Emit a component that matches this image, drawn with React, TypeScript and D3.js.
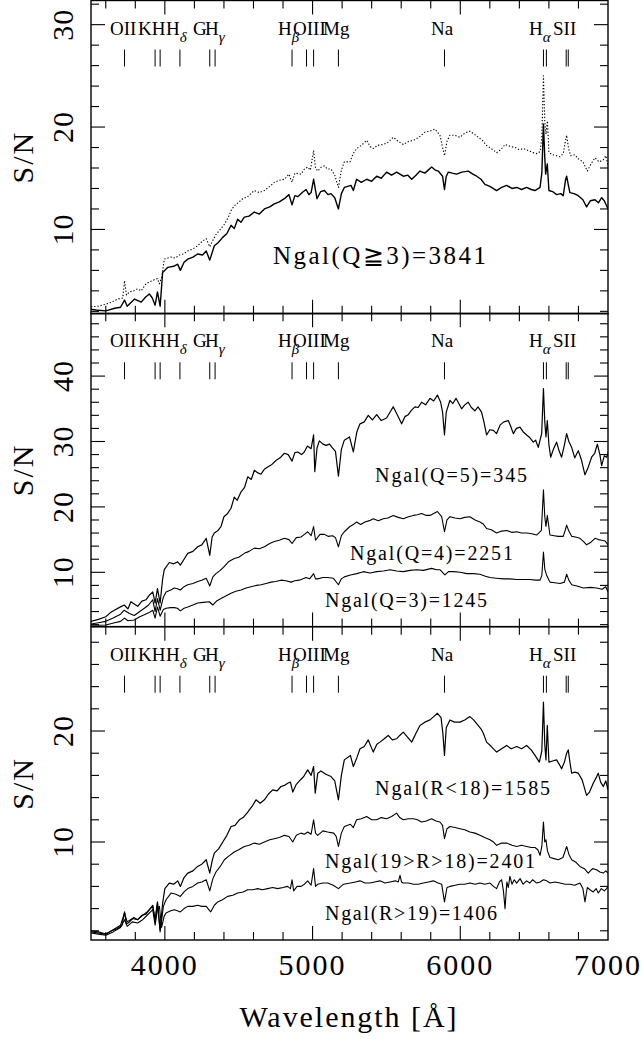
import * as d3 from "d3";

const W = 642;
const H = 1039;
const X0 = 91;
const X1 = 608;
const PANEL_TOPS = [0.5, 313.3, 626.7];
const PANEL_H = 313.3;
const FONT = '"Liberation Serif"';

type Pt = [number, number];

// panel 1: all galaxies Q>=3 (solid) and the dotted upper spectrum
const allQ3: Pt[] = [[3500,2.2],[3550,2.1],[3600,2.05],[3660,2.3],[3700,2.4],[3727,3.1],[3745,2.5],[3795,3.2],[3840,2.9],[3870,3.4],[3895,3.7],[3915,3.3],[3934,2.6],[3950,3.9],[3968,2.5],[3985,5.8],[4020,6.3],[4060,6.4],[4087,6.6],[4105,6.0],[4130,6.8],[4155,7.1],[4190,7.3],[4222,7.6],[4255,7.5],[4280,7.9],[4304,7.0],[4335,8.4],[4360,8.7],[4390,9.2],[4420,9.6],[4448,10.4],[4470,10.1],[4493,11.0],[4515,10.7],[4538,11.2],[4570,11.3],[4606,11.7],[4640,11.5],[4674,12.0],[4710,12.2],[4741,12.5],[4775,12.7],[4809,13.0],[4840,13.4],[4861,12.4],[4880,13.3],[4900,13.2],[4930,13.6],[4956,13.9],[4975,13.4],[4990,13.6],[5007,14.9],[5030,13.0],[5055,13.7],[5080,13.8],[5105,13.4],[5125,13.5],[5150,13.1],[5175,12.0],[5195,13.5],[5215,14.1],[5260,14.3],[5276,13.8],[5298,14.9],[5330,14.6],[5366,14.9],[5400,14.7],[5434,15.2],[5465,15.0],[5501,15.6],[5535,15.3],[5569,15.6],[5614,15.2],[5645,15.3],[5671,14.9],[5700,15.3],[5727,15.7],[5760,15.5],[5806,16.1],[5830,15.8],[5851,15.7],[5880,15.2],[5893,13.9],[5905,15.2],[5919,15.6],[5945,15.5],[5975,15.4],[6010,15.6],[6054,15.7],[6085,15.4],[6111,15.2],[6140,14.9],[6167,14.4],[6200,14.2],[6246,13.8],[6280,14.1],[6314,14.3],[6350,14.0],[6382,14.1],[6415,13.9],[6449,14.1],[6480,13.9],[6506,13.8],[6540,14.1],[6552,15.5],[6563,20.3],[6572,17.0],[6578,15.4],[6589,16.4],[6600,13.8],[6625,13.7],[6652,13.4],[6680,13.5],[6697,13.3],[6712,14.8],[6720,15.2],[6732,14.3],[6742,13.6],[6770,13.5],[6799,13.3],[6830,12.9],[6855,12.2],[6880,12.8],[6912,12.9],[6935,12.6],[6957,13.1],[6975,12.8],[7000,12.0]];
const allQ3Dotted: Pt[] = [[3500,2.45],[3550,2.5],[3600,2.7],[3640,2.9],[3680,3.2],[3715,3.3],[3727,5.0],[3740,3.6],[3760,3.9],[3790,4.0],[3815,4.2],[3840,4.0],[3872,4.7],[3900,4.9],[3930,5.1],[3950,5.2],[3963,4.7],[3980,5.4],[3996,7.1],[4042,7.3],[4070,7.2],[4098,7.5],[4125,7.6],[4155,7.9],[4190,8.1],[4222,8.4],[4250,8.8],[4280,9.1],[4304,8.3],[4320,8.8],[4346,9.5],[4375,10.0],[4403,10.5],[4430,11.2],[4450,11.9],[4470,12.3],[4495,12.6],[4527,13.0],[4560,13.2],[4606,13.8],[4640,13.6],[4674,13.8],[4710,14.2],[4741,14.6],[4775,14.8],[4809,14.9],[4840,15.4],[4861,14.6],[4880,15.5],[4922,15.4],[4945,15.9],[4967,16.1],[4985,15.8],[5007,17.7],[5020,16.0],[5035,15.7],[5060,16.1],[5080,16.2],[5100,15.9],[5125,15.9],[5150,15.3],[5175,14.1],[5195,15.8],[5215,16.6],[5253,16.6],[5275,17.4],[5298,17.9],[5330,18.2],[5366,18.7],[5390,18.1],[5411,17.9],[5440,18.2],[5479,18.3],[5510,18.5],[5546,19.0],[5580,18.6],[5614,18.3],[5650,18.6],[5682,18.7],[5720,19.0],[5761,19.5],[5795,19.6],[5829,19.8],[5862,19.2],[5893,17.2],[5910,18.6],[5930,19.2],[5960,19.2],[5998,19.0],[6030,19.4],[6065,19.6],[6095,19.3],[6122,19.0],[6150,18.7],[6178,18.2],[6210,17.9],[6246,17.5],[6275,17.8],[6303,18.3],[6340,18.1],[6371,18.0],[6400,17.8],[6427,17.9],[6460,17.7],[6494,17.5],[6520,17.4],[6540,17.6],[6552,19.0],[6563,25.0],[6572,20.5],[6580,19.3],[6590,20.6],[6600,17.5],[6625,17.3],[6652,17.2],[6675,17.1],[6697,17.4],[6710,18.5],[6720,19.2],[6732,18.0],[6747,17.2],[6775,17.3],[6799,16.9],[6830,16.6],[6860,15.7],[6885,16.4],[6912,17.0],[6940,16.6],[6968,16.8],[6985,17.2],[7000,16.3]];

// panel 2: by quality flag
const q5: Pt[] = [[3500,2.5],[3550,2.8],[3600,3.2],[3630,3.8],[3658,4.2],[3690,4.6],[3725,5.0],[3750,4.4],[3770,5.5],[3790,5.2],[3816,4.8],[3845,5.6],[3872,5.8],[3895,6.5],[3918,7.0],[3934,5.3],[3950,7.5],[3968,5.3],[3985,9.0],[3996,10.4],[4030,11.5],[4060,11.3],[4087,11.6],[4105,11.1],[4130,12.0],[4155,12.9],[4190,13.2],[4222,13.9],[4250,14.2],[4280,15.2],[4304,12.6],[4320,15.4],[4335,16.0],[4360,16.4],[4380,17.0],[4400,18.5],[4425,19.0],[4448,19.8],[4470,21.5],[4490,21.0],[4516,22.3],[4540,23.0],[4561,24.6],[4585,24.2],[4606,25.6],[4630,25.2],[4651,25.0],[4675,25.8],[4696,26.1],[4725,26.5],[4752,27.1],[4780,27.5],[4809,28.2],[4835,28.0],[4861,27.0],[4880,28.3],[4900,28.4],[4925,28.0],[4944,28.4],[4965,29.3],[4990,28.9],[5007,31.0],[5015,25.4],[5030,29.0],[5046,30.1],[5070,29.6],[5091,29.4],[5115,29.6],[5136,29.0],[5155,28.5],[5175,24.7],[5195,28.8],[5215,30.2],[5250,30.7],[5276,28.4],[5300,31.5],[5321,32.7],[5350,33.0],[5377,34.0],[5405,33.3],[5434,34.1],[5465,33.2],[5501,33.6],[5525,34.5],[5546,35.3],[5575,34.0],[5603,32.7],[5625,33.8],[5648,34.1],[5670,34.8],[5693,35.3],[5715,35.2],[5738,36.0],[5765,35.6],[5795,36.6],[5820,36.2],[5845,37.1],[5867,36.0],[5880,34.5],[5893,31.0],[5905,34.5],[5930,36.3],[5950,35.8],[5971,36.6],[5990,35.8],[6009,35.0],[6030,35.6],[6054,36.0],[6075,35.2],[6099,34.7],[6120,35.3],[6144,34.5],[6160,33.0],[6178,31.0],[6200,31.8],[6224,31.7],[6245,31.2],[6269,32.5],[6295,33.0],[6325,33.2],[6340,32.4],[6359,31.2],[6380,32.0],[6404,32.2],[6425,31.5],[6449,31.0],[6470,30.6],[6494,29.9],[6510,30.2],[6528,29.1],[6551,31.2],[6563,38.1],[6572,33.0],[6580,30.7],[6589,33.2],[6600,29.5],[6612,27.6],[6630,28.8],[6652,29.9],[6670,28.5],[6686,27.6],[6705,29.5],[6720,31.2],[6735,30.0],[6754,29.1],[6775,27.5],[6799,28.6],[6820,27.2],[6844,24.9],[6865,26.0],[6889,27.6],[6910,28.2],[6928,29.6],[6945,28.0],[6957,26.3],[6975,27.8],[6991,27.6],[7000,28.3]];
const q4: Pt[] = [[3500,2.1],[3550,2.3],[3600,2.5],[3650,3.0],[3700,3.6],[3725,4.2],[3760,3.7],[3793,3.4],[3830,4.0],[3861,4.5],[3890,5.0],[3918,5.8],[3934,4.0],[3950,6.0],[3968,4.2],[3990,6.2],[4008,7.0],[4040,7.3],[4064,7.6],[4085,7.5],[4105,7.3],[4130,7.8],[4155,8.1],[4190,8.3],[4222,8.6],[4250,8.8],[4280,9.1],[4304,7.9],[4325,9.3],[4346,9.8],[4375,10.3],[4403,10.9],[4430,11.6],[4470,12.1],[4500,12.3],[4538,12.9],[4570,13.2],[4606,13.7],[4640,13.6],[4674,13.9],[4710,14.4],[4741,14.7],[4775,14.9],[4809,15.2],[4840,15.0],[4861,14.4],[4890,15.3],[4922,15.4],[4945,15.8],[4967,16.2],[4990,15.6],[5007,17.0],[5020,14.9],[5050,15.8],[5080,15.8],[5105,15.5],[5136,15.6],[5155,15.3],[5175,13.9],[5195,15.6],[5215,16.2],[5253,17.0],[5275,17.3],[5298,17.7],[5325,17.3],[5355,17.7],[5385,17.9],[5411,18.2],[5445,17.9],[5479,18.2],[5510,18.3],[5546,18.7],[5580,18.4],[5614,18.2],[5650,18.5],[5682,18.7],[5710,18.8],[5738,19.0],[5770,18.7],[5795,18.7],[5820,19.0],[5845,19.3],[5874,18.5],[5893,16.2],[5910,18.0],[5930,18.5],[5965,18.3],[5998,18.2],[6030,18.4],[6065,18.5],[6100,18.0],[6133,17.7],[6155,17.4],[6178,16.7],[6210,16.5],[6246,16.0],[6280,16.3],[6314,16.4],[6350,16.1],[6382,16.2],[6415,16.0],[6449,16.0],[6485,15.9],[6517,15.7],[6549,16.4],[6563,22.6],[6572,18.5],[6580,17.0],[6589,18.7],[6607,15.7],[6635,15.6],[6664,15.5],[6697,15.5],[6710,16.4],[6720,17.2],[6735,16.3],[6754,15.5],[6780,15.4],[6810,15.2],[6835,14.7],[6855,14.2],[6885,14.6],[6912,15.2],[6935,15.0],[6957,14.9],[6980,14.8],[7000,14.2]];
const q3: Pt[] = [[3500,1.95],[3550,1.9],[3600,1.95],[3660,2.3],[3700,2.5],[3727,3.0],[3750,2.6],[3793,2.7],[3830,3.2],[3861,3.5],[3890,3.8],[3918,4.2],[3934,3.0],[3950,4.7],[3968,3.3],[3990,4.3],[4008,4.5],[4040,4.6],[4064,4.6],[4085,4.5],[4105,4.1],[4130,4.5],[4155,4.7],[4190,5.0],[4222,5.3],[4260,5.4],[4301,5.5],[4324,5.0],[4350,5.6],[4380,6.0],[4415,6.4],[4448,6.8],[4480,7.1],[4516,7.3],[4550,7.6],[4583,7.8],[4620,8.0],[4651,8.1],[4685,8.3],[4719,8.5],[4750,8.6],[4786,8.8],[4820,8.7],[4854,8.5],[4880,8.7],[4910,8.8],[4935,9.0],[4956,9.2],[4980,9.0],[5007,9.8],[5020,9.0],[5035,9.0],[5070,9.2],[5102,9.2],[5140,9.1],[5175,8.1],[5195,9.0],[5215,9.3],[5256,9.6],[5300,9.8],[5343,10.1],[5390,9.9],[5434,10.1],[5480,10.2],[5524,10.4],[5570,10.2],[5614,10.1],[5660,10.3],[5704,10.4],[5750,10.3],[5806,10.6],[5840,10.4],[5862,10.4],[5896,9.6],[5920,10.1],[5953,10.1],[6000,10.0],[6043,9.8],[6090,9.8],[6133,9.7],[6170,9.4],[6201,9.2],[6245,9.1],[6291,9.0],[6335,9.0],[6382,8.9],[6430,8.9],[6472,8.9],[6510,8.8],[6540,8.8],[6552,9.5],[6563,13.1],[6572,10.5],[6584,9.6],[6607,8.5],[6640,8.4],[6675,8.3],[6705,8.5],[6720,9.7],[6735,8.8],[6754,8.1],[6790,7.9],[6833,7.6],[6880,7.7],[6923,7.6],[6960,7.4],[6985,7.8],[7000,7.0]];

// panel 3: by R magnitude
const rBright: Pt[] = [[3500,1.9],[3550,1.8],[3600,1.7],[3640,2.0],[3680,2.2],[3710,2.5],[3727,3.7],[3740,2.6],[3760,2.8],[3790,3.2],[3816,3.0],[3845,3.4],[3872,3.5],[3895,3.9],[3918,4.3],[3934,3.0],[3950,4.6],[3968,2.1],[3985,4.5],[4000,5.8],[4030,6.3],[4060,6.2],[4087,6.5],[4105,6.0],[4130,6.8],[4155,7.2],[4190,7.4],[4222,7.8],[4250,8.0],[4280,8.4],[4304,7.2],[4320,8.3],[4335,9.0],[4365,9.4],[4392,10.0],[4420,10.6],[4448,11.4],[4475,11.5],[4504,12.0],[4530,12.2],[4561,12.7],[4590,13.2],[4617,13.8],[4645,13.5],[4674,13.8],[4700,14.3],[4730,14.7],[4760,14.6],[4786,15.0],[4810,15.1],[4831,15.3],[4850,15.4],[4866,14.5],[4890,15.2],[4911,15.5],[4940,15.9],[4967,16.5],[4990,16.0],[5007,16.8],[5018,14.4],[5035,16.2],[5057,16.4],[5090,16.1],[5125,15.9],[5150,15.5],[5175,13.8],[5195,16.0],[5215,17.4],[5256,17.8],[5276,16.8],[5300,17.6],[5321,18.4],[5350,18.6],[5377,19.2],[5411,18.1],[5435,18.8],[5456,19.0],[5485,19.3],[5512,19.6],[5540,19.2],[5569,19.3],[5590,19.6],[5614,19.9],[5640,19.5],[5671,19.0],[5700,19.8],[5727,20.5],[5760,20.8],[5795,21.0],[5820,21.3],[5845,21.6],[5870,21.2],[5882,19.8],[5893,17.8],[5905,20.3],[5930,21.0],[5960,20.8],[5998,20.8],[6030,21.0],[6065,21.3],[6090,21.0],[6115,20.6],[6140,20.2],[6156,19.8],[6178,19.0],[6210,18.6],[6246,18.1],[6280,18.4],[6314,18.7],[6345,18.4],[6382,18.6],[6415,18.4],[6449,18.7],[6480,18.3],[6506,17.8],[6535,17.2],[6552,18.2],[6563,22.6],[6572,18.8],[6580,17.4],[6589,20.5],[6600,17.2],[6625,17.3],[6652,17.4],[6670,17.0],[6686,16.6],[6705,17.2],[6720,18.0],[6731,18.3],[6742,17.2],[6754,16.2],[6775,16.3],[6799,16.2],[6825,15.6],[6855,14.2],[6875,14.5],[6900,15.3],[6920,15.8],[6934,16.2],[6950,15.4],[6968,15.0],[6985,15.5],[7000,14.7]];
const rMid: Pt[] = [[3500,2.0],[3550,1.9],[3600,1.7],[3650,2.1],[3700,2.5],[3727,3.6],[3745,2.8],[3780,3.1],[3816,3.0],[3850,3.4],[3880,3.7],[3918,4.2],[3934,2.8],[3950,4.5],[3968,1.9],[3990,4.2],[4008,4.8],[4042,5.4],[4075,5.3],[4105,5.1],[4130,5.5],[4155,5.8],[4190,6.0],[4222,6.3],[4250,6.4],[4280,6.6],[4304,5.6],[4325,6.7],[4346,7.3],[4375,7.8],[4403,8.4],[4430,8.7],[4470,9.1],[4500,9.3],[4538,9.6],[4570,9.7],[4606,9.9],[4640,9.8],[4674,10.0],[4710,10.2],[4741,10.3],[4775,10.4],[4809,10.6],[4840,10.5],[4866,10.0],[4890,10.6],[4922,10.8],[4945,10.7],[4967,10.9],[4990,10.7],[5007,12.0],[5020,10.8],[5035,10.6],[5070,11.0],[5102,10.9],[5143,10.8],[5160,10.5],[5175,9.6],[5195,10.8],[5215,11.4],[5256,11.6],[5276,11.3],[5298,12.0],[5330,12.1],[5366,12.3],[5400,12.0],[5434,12.0],[5465,12.2],[5501,12.1],[5535,12.3],[5569,12.6],[5590,12.2],[5614,12.0],[5650,12.1],[5682,12.1],[5710,12.0],[5738,11.8],[5770,11.9],[5806,12.1],[5835,11.9],[5862,11.8],[5880,11.5],[5893,10.3],[5910,11.2],[5930,11.4],[5965,11.3],[5998,11.2],[6030,11.1],[6065,10.9],[6100,10.8],[6133,10.6],[6165,10.4],[6201,10.2],[6225,10.0],[6246,9.7],[6280,9.9],[6314,9.9],[6350,9.7],[6382,9.6],[6415,9.7],[6449,9.6],[6480,9.5],[6506,9.5],[6525,9.3],[6540,8.8],[6552,9.6],[6563,11.8],[6572,10.0],[6580,10.2],[6590,9.2],[6607,8.6],[6635,8.5],[6664,8.4],[6695,8.6],[6720,9.6],[6735,8.9],[6754,8.4],[6780,8.2],[6810,7.8],[6840,7.6],[6866,7.2],[6895,7.6],[6923,7.5],[6945,7.3],[6968,7.2],[6985,7.4],[7000,7.2]];
const rFaint: Pt[] = [[3500,1.8],[3550,1.7],[3600,1.6],[3650,1.9],[3700,2.3],[3727,3.0],[3745,2.4],[3780,2.8],[3816,2.7],[3850,3.0],[3880,3.4],[3918,3.9],[3934,2.5],[3950,3.9],[3963,4.2],[3978,2.3],[3995,3.3],[4008,3.6],[4040,3.8],[4064,3.9],[4085,3.8],[4105,3.7],[4130,4.0],[4155,4.2],[4190,4.2],[4222,4.3],[4250,4.2],[4280,4.2],[4310,3.7],[4335,4.3],[4358,4.6],[4390,4.8],[4425,5.1],[4460,5.2],[4493,5.4],[4530,5.5],[4561,5.7],[4595,5.7],[4628,5.8],[4660,5.7],[4696,5.8],[4730,5.9],[4764,5.8],[4800,5.9],[4831,6.0],[4850,5.8],[4861,6.6],[4872,5.6],[4895,6.0],[4922,6.0],[4945,6.2],[4967,6.5],[4990,6.1],[5007,7.6],[5020,6.0],[5035,6.2],[5070,6.3],[5102,6.3],[5140,6.1],[5175,5.8],[5210,6.2],[5256,6.3],[5290,6.4],[5321,6.5],[5355,6.3],[5388,6.3],[5420,6.4],[5456,6.5],[5490,6.3],[5524,6.4],[5560,6.5],[5580,6.4],[5592,7.0],[5602,6.4],[5614,6.3],[5650,6.3],[5682,6.2],[5715,6.2],[5750,6.3],[5785,6.4],[5817,6.5],[5850,6.3],[5874,6.2],[5893,4.6],[5910,5.9],[5930,6.0],[5965,6.1],[5998,6.2],[6030,6.2],[6065,6.3],[6100,6.2],[6133,6.3],[6165,6.2],[6201,6.3],[6225,6.0],[6246,5.8],[6265,6.4],[6280,6.6],[6292,5.6],[6303,4.0],[6315,6.4],[6325,5.9],[6336,6.9],[6350,6.2],[6365,6.6],[6382,6.3],[6405,6.7],[6425,6.2],[6449,6.5],[6470,6.3],[6490,6.6],[6517,6.3],[6540,6.4],[6564,6.6],[6585,6.5],[6607,6.3],[6640,6.4],[6675,6.3],[6710,6.2],[6742,6.2],[6775,6.1],[6810,6.3],[6830,5.8],[6844,4.6],[6860,5.9],[6878,5.7],[6900,5.5],[6920,5.8],[6934,5.4],[6955,5.8],[6975,5.6],[6991,5.8],[7000,6.0]];

// spectral features (rest wavelengths, Å)
const featureLines = [3727, 3934, 3968, 4102, 4304, 4340, 4861, 4959, 5007, 5175, 5893, 6563, 6583, 6717, 6731];
const featureNames = ["OII", "KH", "H", "G", "H", "H", "OIII", "Mg", "Na", "H", "SII"];
const featureSubs = ["", "", "δ", "", "γ", "β", "", "", "", "α", ""];
const featureLabelAt = [3629, 3818, 4008, 4191, 4272, 4766, 4868, 5071, 5802, 6465, 6628];

const xTickLabels = [4000, 5000, 6000, 7000];

const panels = [
  {
    domain: [1.76, 32.36],
    yLabels: [10, 20, 30],
    series: [
      { data: allQ3, dotted: false, w: 1.4 },
      { data: allQ3Dotted, dotted: true, w: 1.1 },
    ],
    notes: [{ text: "Ngal(Q≧3)=3841", wl: 4732, sn: 6.65, size: 25, len: 213 }],
  },
  {
    domain: [1.7, 49.6],
    yLabels: [10, 20, 30, 40],
    series: [
      { data: q5, dotted: false, w: 1.2 },
      { data: q4, dotted: false, w: 1.1 },
      { data: q3, dotted: false, w: 1.1 },
    ],
    notes: [
      { text: "Ngal(Q=5)=345", wl: 5423, sn: 23.8, size: 20, len: 152 },
      { text: "Ngal(Q=4)=2251", wl: 5253, sn: 11.9, size: 20, len: 163 },
      { text: "Ngal(Q=3)=1245", wl: 5084, sn: 4.7, size: 20, len: 162 },
    ],
  },
  {
    domain: [1.17, 29.4],
    yLabels: [10, 20],
    series: [
      { data: rBright, dotted: false, w: 1.2 },
      { data: rMid, dotted: false, w: 1.1 },
      { data: rFaint, dotted: false, w: 1.1 },
    ],
    notes: [
      { text: "Ngal(R<18)=1585", wl: 5423, sn: 14.2, size: 20, len: 175 },
      { text: "Ngal(19>R>18)=2401", wl: 5084, sn: 7.66, size: 20, len: 210 },
      { text: "Ngal(R>19)=1406", wl: 5084, sn: 2.97, size: 20, len: 172 },
    ],
  },
];

const x = d3.scaleLinear().domain([3500, 7000]).range([X0, X1]);
const xMinor = d3.range(3600, 7000, 200);

function Panel({ p, top, last }: { p: (typeof panels)[number]; top: number; last: boolean }) {
  const bottom = top + PANEL_H;
  const y = d3.scaleLinear().domain(p.domain).range([bottom, top]);
  const line = d3
    .line<Pt>()
    .x((d) => x(d[0]))
    .y((d) => y(d[1]));
  const yMinor = d3.range(2, p.domain[1], 2);
  const clipId = `clip-${Math.round(top)}`;
  return (
    <g>
      <defs>
        <clipPath id={clipId}>
          <rect x={X0} y={top} width={X1 - X0} height={PANEL_H} />
        </clipPath>
      </defs>
      <g clipPath={`url(#${clipId})`}>
        {p.series.map((s, i) => (
          <path
            key={i}
            d={line(s.data) || ""}
            fill="none"
            stroke="#000"
            strokeWidth={s.w}
            strokeDasharray={s.dotted ? "1.3 1.9" : undefined}
            strokeLinejoin="round"
          />
        ))}
      </g>
      {/* x ticks, top and bottom, pointing inward */}
      {xMinor.map((v) => {
        const len = v % 1000 === 0 ? 14 : 8;
        return (
          <g key={v} stroke="#000" strokeWidth={1.1}>
            <line x1={x(v)} x2={x(v)} y1={bottom} y2={bottom - len} />
            <line x1={x(v)} x2={x(v)} y1={top} y2={top + len} />
          </g>
        );
      })}
      {/* y ticks, left and right */}
      {yMinor.map((v) => {
        const len = v % 10 === 0 ? 14 : 8;
        return (
          <g key={v} stroke="#000" strokeWidth={1.1}>
            <line x1={X0} x2={X0 + len} y1={y(v)} y2={y(v)} />
            <line x1={X1} x2={X1 - len} y1={y(v)} y2={y(v)} />
          </g>
        );
      })}
      <rect x={X0} y={top} width={X1 - X0} height={PANEL_H} fill="none" stroke="#000" strokeWidth={1.4} />
      {p.yLabels.map((v) => (
        <text key={v} transform={`translate(73,${y(v)}) rotate(-90)`} textAnchor="middle" fontSize={30} letterSpacing={1}>
          {v}
        </text>
      ))}
      <text
        transform={`translate(33,${(top + bottom) / 2}) rotate(-90)`}
        textAnchor="middle"
        fontSize={30}
        letterSpacing={2}
      >
        S/N
      </text>
      {/* feature markers */}
      {featureLines.map((wl) => (
        <line key={wl} x1={x(wl)} x2={x(wl)} y1={top + 49} y2={top + 66} stroke="#000" strokeWidth={1} />
      ))}
      {featureNames.map((name, i) => (
        <text key={i} x={x(featureLabelAt[i])} y={top + 34} fontSize={19}>
          {name}
          {featureSubs[i] ? (
            <tspan dy={7} fontSize={15} fontStyle="italic">
              {featureSubs[i]}
            </tspan>
          ) : null}
        </text>
      ))}
      {p.notes.map((n) => (
        <text key={n.text} x={x(n.wl)} y={y(n.sn)} fontSize={n.size} textLength={n.len} lengthAdjust="spacing">
          {n.text}
        </text>
      ))}
      {last &&
        xTickLabels.map((v) => (
          <text key={v} x={x(v)} y={bottom + 35} textAnchor="middle" fontSize={30} letterSpacing={2}>
            {v}
          </text>
        ))}
    </g>
  );
}

export default function App() {
  return (
    <svg
      width={W}
      height={H}
      viewBox={`0 0 ${W} ${H}`}
      style={{ position: "absolute", left: 0, top: 0, background: "#fff", fontFamily: FONT }}
    >
      <rect width={W} height={H} fill="#fff" />
      {panels.map((p, i) => (
        <Panel key={i} p={p} top={PANEL_TOPS[i]} last={i === panels.length - 1} />
      ))}
      <text x={348} y={1027} textAnchor="middle" fontSize={30} textLength={217} lengthAdjust="spacing">
        Wavelength [Å]
      </text>
    </svg>
  );
}
